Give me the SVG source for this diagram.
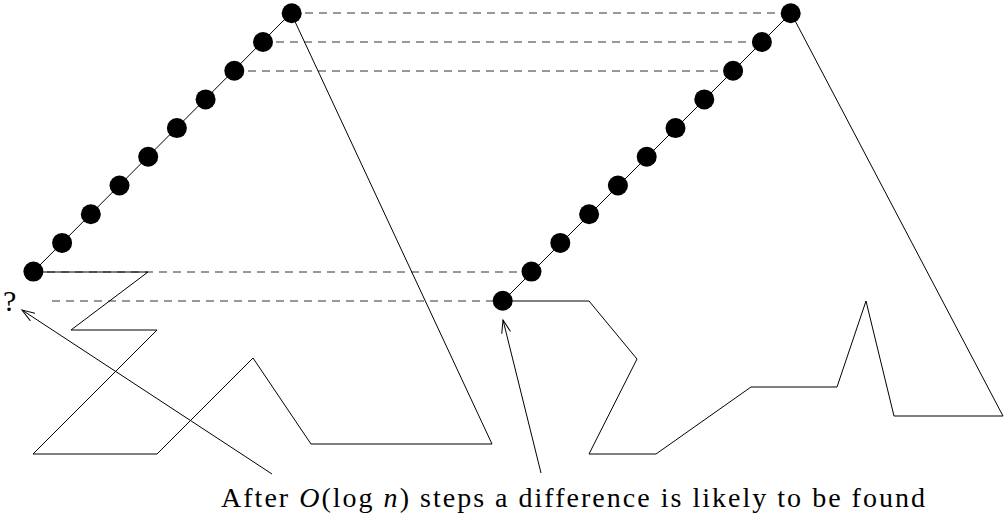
<svg xmlns="http://www.w3.org/2000/svg" width="1005" height="525" viewBox="0 0 1005 525">
<style>
.dash{stroke:#333;stroke-width:1;stroke-dasharray:8 6;fill:none}
.ln{stroke:#000;stroke-width:1;fill:none}
.node{fill:#000}
.lbl{font-family:"Liberation Serif","Times New Roman",serif;font-size:28px;fill:#000}
</style>
<defs>
<marker id="arr" markerUnits="userSpaceOnUse" markerWidth="14" markerHeight="10" refX="13" refY="5" orient="auto">
<path d="M0,0.5 L13,5 L0,9.5" fill="none" stroke="#000" stroke-width="1"/>
</marker>
</defs>
<g id="connectors">
<line class="dash" x1="291" y1="13" x2="791" y2="13"/>
<line class="dash" x1="262" y1="42" x2="762" y2="42"/>
<line class="dash" x1="234" y1="71" x2="733" y2="71"/>
<line class="dash" x1="33" y1="272" x2="532" y2="272"/>
<line class="dash" x1="52" y1="301" x2="503" y2="301"/>
<polyline class="ln" points="33,272 148,272 71,330 157,330 33,454 157,454 253,358 311,444 492,444 291,13"/>
<line class="ln" x1="33" y1="272" x2="291" y2="13"/>
<polyline class="ln" points="503,301 589,301 637,359 589,454 656,454 751,387 837,387 866,301 894,416 1003,416 791,13"/>
<line class="ln" x1="503" y1="301" x2="791" y2="13"/>
<line class="ln" x1="272" y1="474" x2="22" y2="310" marker-end="url(#arr)"/>
<line class="ln" x1="541" y1="473" x2="503" y2="320" marker-end="url(#arr)"/>
</g>
<g id="left-chain">
<circle class="node" cx="291.7" cy="13.3" r="10"/>
<circle class="node" cx="263" cy="42" r="10"/>
<circle class="node" cx="234.3" cy="70.7" r="10"/>
<circle class="node" cx="205.6" cy="99.4" r="10"/>
<circle class="node" cx="176.9" cy="128.1" r="10"/>
<circle class="node" cx="148.2" cy="156.8" r="10"/>
<circle class="node" cx="119.5" cy="185.5" r="10"/>
<circle class="node" cx="90.8" cy="214.2" r="10"/>
<circle class="node" cx="62.1" cy="242.9" r="10"/>
<circle class="node" cx="33.4" cy="271.6" r="10"/>
</g>
<g id="right-chain">
<circle class="node" cx="790.7" cy="13.3" r="10"/>
<circle class="node" cx="761.9" cy="42" r="10"/>
<circle class="node" cx="733.1" cy="70.7" r="10"/>
<circle class="node" cx="704.3" cy="99.4" r="10"/>
<circle class="node" cx="675.5" cy="128.1" r="10"/>
<circle class="node" cx="646.7" cy="156.8" r="10"/>
<circle class="node" cx="617.9" cy="185.5" r="10"/>
<circle class="node" cx="589.1" cy="214.2" r="10"/>
<circle class="node" cx="560.3" cy="242.9" r="10"/>
<circle class="node" cx="531.5" cy="271.6" r="10"/>
<circle class="node" cx="502.7" cy="300.7" r="10"/>
</g>
<g id="question">
<text class="lbl" x="3" y="311" style="font-size:30px">?</text>
</g>
<g id="caption">
<text class="lbl" x="221" y="507" textLength="704" lengthAdjust="spacing">After <tspan font-style="italic">O</tspan>(log <tspan font-style="italic">n</tspan>) steps a difference is likely to be found</text>
</g>
</svg>
